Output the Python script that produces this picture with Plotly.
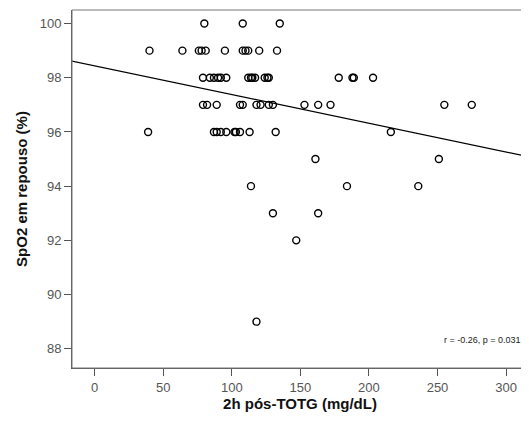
import numpy as np
import plotly.graph_objs as go

# SpO2 values grouped by level, x = 2h pós-TOTG
x_100 = [80, 108, 135]
x_99 = [40, 64, 76, 78, 81, 95, 108, 110, 112, 120, 133]
x_98 = [79, 84, 87, 90, 92, 96, 112, 114, 115, 117, 124, 126, 127, 178, 188, 189, 203]
x_97 = [79, 82, 89, 106, 108, 118, 121, 127, 130, 153, 163, 172, 255, 275]
x_96 = [39, 87, 89, 92, 96, 102, 103, 106, 113, 132, 216]
x_95 = [161, 251]
x_94 = [114, 184, 236]
x_93 = [130, 163]
x_92 = [147]
x_89 = [118]

groups = {100: x_100, 99: x_99, 98: x_98, 97: x_97, 96: x_96,
          95: x_95, 94: x_94, 93: x_93, 92: x_92, 89: x_89}
xs, ys = [], []
for yv, xl in groups.items():
    xs += xl
    ys += [yv] * len(xl)

fit_intercept = 98.44
fit_slope = -0.0106
line_x = [-17, 320]
line_y = [fit_intercept + fit_slope * v for v in line_x]

fig = go.Figure()
fig.add_trace(go.Scatter(x=line_x, y=line_y, mode='lines',
                         line=dict(color='black', width=1.2), hoverinfo='skip'))
fig.add_trace(go.Scatter(x=xs, y=ys, mode='markers',
                         marker=dict(symbol='circle-open', size=7, color='black',
                                     line=dict(width=1.4))))
fig.add_annotation(x=0.99, y=0.06, xref='paper', yref='paper', xanchor='right',
                   text='r = -0.26, p = 0.031', showarrow=False,
                   font=dict(size=9, color='#222'))
axis_common = dict(showgrid=False, zeroline=False, showline=True, linecolor='#555',
                   linewidth=1, ticks='outside', ticklen=7, tickcolor='#555',
                   tickfont=dict(family='Arial, Liberation Sans', size=13, color='#555'),
                   mirror=False, automargin=False)
# page has an 8px body margin, so the figure is a bit smaller than the window
fig.update_layout(
    width=521, height=417, showlegend=False,
    plot_bgcolor='white', paper_bgcolor='white',
    margin=dict(l=64, r=1, t=2, b=57),
    font=dict(family='Arial, Liberation Sans'),
    xaxis=dict(range=[-16.5, 316], tickvals=[0, 50, 100, 150, 200, 250, 300],
               title=dict(text='<b>2h pós-TOTG (mg/dL)</b>', font=dict(size=15, color='#111'),
                          standoff=4), **axis_common),
    yaxis=dict(range=[87.29, 100.5], tickvals=[88, 90, 92, 94, 96, 98, 100],
               title=dict(text='<b>SpO2 em repouso (%)</b>', font=dict(size=15, color='#111'),
                          standoff=8), **axis_common),
    shapes=[dict(type='rect', xref='paper', yref='paper', x0=0, y0=0, x1=1, y1=1,
                 line=dict(color='#777', width=1))],
)
fig.write_html("out.html")
